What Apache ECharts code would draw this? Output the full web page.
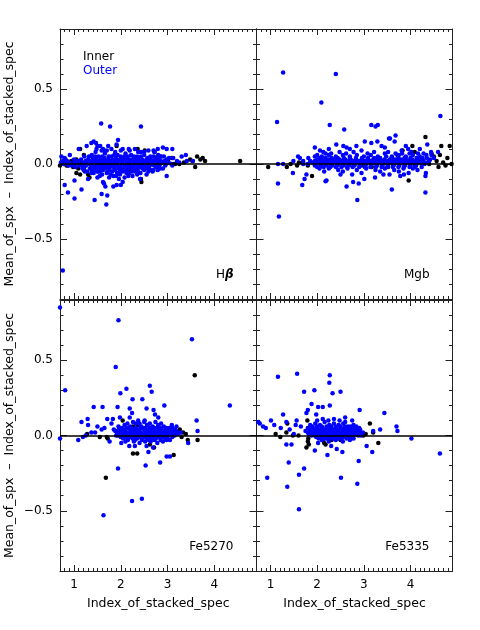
<!DOCTYPE html>
<html>
<head>
<meta charset="utf-8">
<script src="https://cdn.jsdelivr.net/npm/echarts@6/dist/echarts.min.js"></script>
<style>
  html, body { margin: 0; padding: 0; background: #fff; }
  #chart { width: 480px; height: 630px; }
</style>
</head>
<body>
<div id="chart"></div>
<script>
// Panel names (one per index)
const panelNames = ['Hβ', 'Mgb', 'Fe5270', 'Fe5335'];

// Hbeta panel: [index_of_stacked_spec, mean_of_spx - index]
const hbInner = [
    [1.13,0.10],[1.21,0.06],[1.91,0.12],[2.36,0.10],[2.51,0.09],[2.72,0.08],[2.78,0.05],[3.01,0.02],[3.09,0.04],[3.12,0.00],
    [3.16,0.00],[3.48,0.03],[3.59,-0.02],[3.75,0.04],[3.80,0.02],[4.55,0.02],[3.53,0.02],[3.63,0.05],[3.70,0.03],[0.94,0.02],
    [1.01,0.00],[1.05,0.03],[0.70,-0.01],[0.87,-0.01],[1.09,-0.03],[1.21,-0.04],[1.30,-0.07],[1.05,-0.06],[1.13,-0.07],[1.33,-0.09],
    [2.44,-0.12],[2.43,-0.10],[2.80,0.01],[2.69,0.02],[2.57,0.00],[0.84,-0.01],[0.80,0.02],[0.98,-0.02],[1.15,0.01],[2.95,0.01],
    [3.25,0.00],[3.35,0.01],[1.60,0.02],[2.20,-0.04],[1.40,-0.02]
];
const hbOuter = [
    [1.58,0.27],[1.77,0.25],[2.43,0.25],[0.76,-0.71],[1.94,0.16],[1.37,0.14],[1.42,0.15],[1.47,0.14],[1.59,0.09],[1.73,0.12],
    [1.62,0.10],[2.19,0.09],[2.37,0.08],[2.59,0.09],[2.79,0.10],[2.98,0.10],[3.10,0.10],[3.39,0.06],[2.80,0.06],[2.72,0.08],
    [0.91,0.06],[0.80,0.04],[0.76,0.02],[0.73,0.05],[3.41,0.02],[1.10,0.10],[1.27,0.12],[1.50,0.12],[1.91,0.13],[2.04,0.10],
    [2.17,0.10],[2.30,0.10],[2.43,0.08],[2.70,0.09],[2.90,0.11],[3.03,0.04],[2.86,0.05],[3.30,0.05],[3.54,0.02],
    [0.80,-0.14],[0.87,-0.19],[1.01,-0.11],[1.01,-0.23],[1.16,-0.17],[1.44,-0.24],[1.59,-0.20],[1.64,-0.13],[1.67,-0.15],[1.71,-0.21],
    [1.69,-0.27],[1.84,-0.15],[1.91,-0.14],[2.00,-0.14],[1.84,-0.08],[1.98,-0.07],[2.16,-0.08],[2.41,-0.10],[2.59,-0.05],[2.98,-0.08],
    [2.79,-0.04],[1.37,-0.06],[1.51,-0.05],[1.30,-0.10],[1.23,-0.05],[1.50,-0.09],[1.62,-0.12],[2.04,-0.12],
    [1.22,0.05],[1.38,0.06],[1.52,0.05],[1.66,0.07],[1.80,0.05],[1.93,0.06],[2.08,0.05],[2.22,0.06],[2.35,0.05],[2.50,0.06],
    [2.63,0.05],[2.78,0.04],[2.92,0.05],[3.12,0.04],
    [0.82,0.03],[1.00,0.03],[1.15,0.03],[1.30,0.03],[1.40,0.04],[1.48,0.03],[1.57,0.03],[1.65,0.04],[1.73,0.03],[1.82,0.03],
    [1.90,0.04],[1.98,0.03],[2.06,0.03],[2.14,0.04],[2.22,0.03],[2.30,0.03],[2.38,0.04],[2.46,0.03],[2.55,0.03],[2.64,0.03],
    [2.74,0.03],[2.85,0.02],[2.98,0.03],[3.20,0.02],
    [0.72,0.01],[0.90,0.01],[1.08,0.02],[1.20,0.01],[1.32,0.01],[1.41,0.02],[1.50,0.01],[1.59,0.01],[1.68,0.02],[1.77,0.01],
    [1.86,0.01],[1.95,0.02],[2.04,0.01],[2.13,0.01],[2.21,0.02],[2.30,0.01],[2.39,0.01],[2.48,0.02],[2.57,0.01],[2.66,0.01],
    [2.76,0.02],[2.88,0.01],[3.02,0.01],[3.25,0.01],
    [0.95,-0.01],[1.12,-0.01],[1.26,-0.01],[1.36,-0.01],[1.45,-0.02],[1.54,-0.01],[1.63,-0.01],[1.72,-0.02],[1.81,-0.01],[1.90,-0.01],
    [1.99,-0.02],[2.08,-0.01],[2.17,-0.01],[2.26,-0.02],[2.35,-0.01],[2.44,-0.01],[2.53,-0.02],[2.62,-0.01],[2.71,-0.01],[2.82,-0.02],
    [2.95,-0.01],[3.10,-0.01],
    [1.18,-0.03],[1.34,-0.03],[1.44,-0.04],[1.56,-0.03],[1.66,-0.03],[1.76,-0.04],[1.86,-0.03],[1.96,-0.03],[2.06,-0.04],[2.16,-0.03],
    [2.26,-0.03],[2.36,-0.04],[2.46,-0.03],[2.58,-0.03],[2.70,-0.04],[2.84,-0.03],
    [1.28,-0.05],[1.42,-0.06],[1.55,-0.05],[1.70,-0.06],[1.82,-0.05],[1.92,-0.06],[2.04,-0.05],[2.18,-0.06],[2.30,-0.05],[2.42,-0.06],
    [2.55,-0.07],[2.68,-0.05],[1.46,0.08],[1.70,0.09],[1.88,0.08],[2.10,0.07],[2.50,0.08],[1.55,-0.08],[1.75,-0.09],[2.25,-0.08],
    [2.08,-0.09],[1.96,-0.10],
    [0.78,0.00],[0.88,-0.01],[0.99,0.00],[1.10,0.00],[1.19,-0.01],[1.29,0.00],[1.39,0.00],[1.48,0.00],[1.57,-0.01],[1.66,0.00],
    [1.75,0.00],[1.84,-0.01],[1.93,0.00],[2.02,0.00],[2.11,-0.01],[2.20,0.00],[2.29,0.00],[2.38,-0.01],[2.47,0.00],[2.56,0.00],
    [2.65,0.00],[2.74,-0.01],[2.84,0.00],[2.96,0.00],[3.08,0.00],
    [0.85,0.02],[1.02,0.02],[1.25,0.02],[1.36,0.02],[1.45,0.02],[1.54,0.02],[1.63,0.03],[1.72,0.02],[1.81,0.02],[1.90,0.02],
    [2.00,0.02],[2.09,0.03],[2.18,0.02],[2.27,0.02],[2.36,0.02],[2.45,0.02],[2.54,0.02],[2.62,0.02],[2.71,0.02],[2.81,0.03],[2.93,0.02],
    [1.32,0.05],[1.45,0.05],[1.60,0.05],[1.74,0.05],[1.86,0.06],[2.00,0.05],[2.15,0.05],[2.28,0.05],[2.43,0.05],[2.57,0.04],
    [2.70,0.05],[2.85,0.05],
    [1.03,-0.02],[1.22,-0.02],[1.40,-0.02],[1.50,-0.03],[1.59,-0.02],[1.68,-0.02],[1.77,-0.02],[1.86,-0.02],[1.95,-0.02],[2.04,-0.03],
    [2.13,-0.02],[2.22,-0.02],[2.31,-0.03],[2.40,-0.02],[2.49,-0.02],[2.60,-0.02],[2.76,-0.02],[2.90,-0.03],
    [1.38,-0.04],[1.50,-0.05],[1.62,-0.04],[1.72,-0.05],[1.88,-0.04],[1.98,-0.05],[2.12,-0.04],[2.24,-0.05],[2.36,-0.05],[2.50,-0.04],
    [2.64,-0.04],[1.48,0.10],[1.56,0.12],[1.64,0.09],[1.80,0.10],[2.00,0.09],[1.60,-0.07],[1.78,-0.07],[1.90,-0.08],[2.12,-0.06],
    [2.35,-0.07]
];

// Mgb panel
const mgbInner = [
    [0.95,-0.02],[1.43,0.00],[1.57,-0.01],[1.61,0.01],[1.80,-0.01],[1.89,-0.08],[2.09,-0.01],[2.56,0.00],[2.95,-0.01],[3.17,-0.02],
    [3.52,-0.02],[3.96,-0.11],[4.04,0.12],[4.32,0.18],[4.45,0.07],[4.63,0.06],[4.66,0.12],[4.84,0.12],[4.79,0.04],[4.70,0.01],
    [4.88,0.00],[4.56,0.02],[4.20,0.04],[4.09,0.08],[3.72,0.06],[3.57,0.03],[3.83,0.09],[4.10,-0.01],[4.40,0.00],[4.60,-0.02],
    [4.75,-0.01],[4.50,0.05],[3.30,0.04],[3.10,0.02],[1.35,-0.02],[1.70,0.01],[2.30,0.02]
];
const mgbOuter = [
    [1.27,0.61],[2.40,0.60],[2.09,0.41],[1.14,0.28],[2.27,0.26],[2.58,0.23],[3.16,0.26],[3.25,0.25],[3.30,0.26],[4.64,0.32],
    [3.68,0.19],[3.56,0.17],[4.36,0.13],[1.16,-0.13],[1.18,-0.35],[1.48,-0.06],[1.68,-0.14],[1.73,-0.10],[1.77,-0.07],[2.18,-0.115],
    [2.63,-0.15],[2.77,-0.12],[2.86,-0.24],[3.01,-0.10],[3.60,-0.17],[4.32,-0.19],[4.32,-0.08],[4.33,-0.06],[3.78,-0.08],[3.86,-0.07],
    [3.96,-0.06],[2.20,-0.11],[2.89,-0.13],[2.50,-0.07],[2.75,-0.07],[3.24,-0.09],[3.42,-0.07],[3.55,-0.07],
    [1.95,0.11],[2.06,0.09],[2.13,0.08],[2.41,0.13],[2.56,0.12],[2.63,0.11],[2.84,0.12],[3.02,0.15],[3.16,0.14],[3.29,0.15],
    [3.38,0.12],[3.54,0.17],[3.66,0.15],[3.81,0.09],[3.95,0.10],[4.02,0.08],[4.16,0.07],[4.34,0.06],[4.45,0.06],[4.59,0.08],
    [1.59,0.05],[1.63,0.04],[1.81,0.04],[1.49,0.02],[1.16,0.00],[1.27,0.00],[1.70,0.02],[2.25,0.10],[2.70,0.10],[2.95,0.09],
    [3.45,0.11],[3.90,0.12],[4.20,0.10],[2.00,0.06],[2.30,0.07],
    [1.95,0.05],[2.10,0.05],[2.25,0.06],[2.40,0.05],[2.55,0.06],[2.70,0.05],[2.85,0.06],[3.00,0.05],[3.15,0.06],[3.30,0.05],
    [3.45,0.07],[3.60,0.05],[3.75,0.06],[3.90,0.05],[4.05,0.06],[4.20,0.05],[4.35,0.04],[4.50,0.04],
    [1.85,0.02],[2.00,0.03],[2.12,0.03],[2.24,0.03],[2.36,0.03],[2.48,0.03],[2.60,0.03],[2.72,0.03],[2.84,0.03],[2.96,0.03],
    [3.08,0.03],[3.20,0.03],[3.32,0.03],[3.44,0.03],[3.56,0.03],[3.68,0.03],[3.80,0.03],[3.92,0.03],[4.04,0.03],[4.16,0.03],[4.28,0.02],
    [1.70,0.00],[1.90,0.01],[2.02,0.01],[2.14,0.01],[2.26,0.01],[2.38,0.01],[2.50,0.01],[2.62,0.01],[2.74,0.01],[2.86,0.01],
    [2.98,0.01],[3.10,0.01],[3.22,0.01],[3.34,0.01],[3.46,0.01],[3.58,0.01],[3.70,0.01],[3.82,0.01],[3.94,0.01],[4.06,0.01],
    [4.18,0.01],[4.30,0.00],
    [1.95,-0.01],[2.08,-0.01],[2.20,-0.01],[2.32,-0.01],[2.44,-0.01],[2.56,-0.01],[2.68,-0.01],[2.80,-0.01],[2.92,-0.01],[3.04,-0.01],
    [3.16,-0.01],[3.28,-0.01],[3.40,-0.01],[3.52,-0.01],[3.64,-0.01],[3.76,-0.01],[3.88,-0.01],[4.00,-0.01],[4.12,-0.01],[4.24,-0.02],
    [2.05,-0.03],[2.25,-0.03],[2.45,-0.04],[2.65,-0.03],[2.85,-0.04],[3.05,-0.03],[3.25,-0.04],[3.45,-0.03],[3.65,-0.04],[3.85,-0.03],
    [4.05,-0.03],[2.15,-0.05],[2.55,-0.05],[2.95,-0.06],[3.35,-0.05],[3.75,-0.05],[4.15,-0.04],
    [1.80,0.00],[1.96,0.00],[2.08,0.00],[2.20,0.00],[2.32,0.00],[2.44,0.00],[2.56,0.00],[2.68,0.00],[2.80,0.00],[2.92,0.00],
    [3.04,0.00],[3.16,0.00],[3.28,0.00],[3.40,0.00],[3.52,0.00],[3.64,0.00],[3.76,0.00],[3.88,0.00],[4.00,0.00],[4.12,0.00],
    [4.24,0.00],[4.36,0.01],
    [1.95,0.02],[2.07,0.02],[2.19,0.02],[2.31,0.02],[2.43,0.02],[2.55,0.02],[2.67,0.02],[2.79,0.02],[2.91,0.02],[3.03,0.02],
    [3.15,0.02],[3.27,0.02],[3.39,0.02],[3.51,0.02],[3.63,0.02],[3.75,0.02],[3.87,0.02],[3.99,0.02],[4.11,0.02],[4.23,0.02],[4.40,0.02],
    [2.05,0.04],[2.18,0.04],[2.31,0.04],[2.44,0.04],[2.57,0.04],[2.70,0.04],[2.83,0.04],[2.96,0.04],[3.09,0.04],[3.22,0.04],
    [3.35,0.04],[3.48,0.05],[3.61,0.04],[3.74,0.04],[3.87,0.04],[4.00,0.04],[4.13,0.04],[4.26,0.04],[4.42,0.03],
    [2.00,-0.02],[2.14,-0.02],[2.28,-0.02],[2.40,-0.02],[2.52,-0.02],[2.64,-0.02],[2.76,-0.02],[2.90,-0.02],[3.02,-0.02],[3.14,-0.02],
    [3.26,-0.02],[3.38,-0.02],[3.50,-0.02],[3.62,-0.02],[3.74,-0.02],[3.86,-0.02],[3.98,-0.02],[4.10,-0.02],
    [2.18,0.07],[2.48,0.08],[2.62,0.07],[2.78,0.08],[3.08,0.07],[3.22,0.08],[3.52,0.08],[3.68,0.07],[3.82,0.07],[3.98,0.07],
    [4.28,0.07],[4.44,0.08]
];

// Fe5270 panel
const fe5270Inner = [
    [3.58,0.40],[1.68,-0.28],[2.26,-0.12],[2.35,-0.12],[3.13,-0.13],[2.71,-0.08],[2.62,-0.06],[2.04,0.10],[2.26,0.06],[2.36,0.07],
    [2.57,0.07],[2.80,0.06],[3.26,0.04],[3.33,0.02],[3.39,0.01],[3.30,-0.01],[3.43,-0.03],[3.64,-0.03],[1.28,0.01],[1.55,-0.01],
    [1.70,-0.01],[1.72,-0.02],[1.94,0.00],[2.57,-0.02],[3.20,0.02]
];
const fe5270Outer = [
    [0.70,0.85],[1.95,0.765],[3.52,0.64],[1.89,0.455],[0.81,0.30],[2.12,0.31],[1.99,0.28],[2.62,0.33],[2.66,0.29],[2.46,0.24],
    [2.25,0.24],[4.33,0.20],[2.93,0.20],[1.42,0.19],[1.61,0.19],[1.93,0.19],[2.19,0.18],[2.55,0.18],[2.70,0.17],[2.73,0.14],
    [2.80,0.12],[2.24,0.15],[1.63,-0.53],[2.24,-0.435],[2.45,-0.42],[1.94,-0.22],[2.53,-0.20],[2.84,-0.18],[2.98,-0.14],[3.05,-0.14],
    [0.70,-0.02],[1.09,-0.03],[1.19,-0.01],[1.16,0.09],[1.29,0.11],[1.30,0.07],[1.50,0.06],[1.59,0.04],[1.37,0.02],[1.71,0.11],
    [1.83,0.11],[1.98,0.12],[2.19,0.12],[2.37,0.10],[2.51,0.10],[2.80,0.07],[3.09,0.07],[3.19,0.06],[3.62,0.10],[3.64,0.03],
    [3.44,-0.05],[1.76,-0.04],[2.01,-0.05],[2.18,-0.07],[2.30,-0.07],[2.55,-0.07],[2.59,-0.11],[2.69,-0.08],[1.25,0.00],[1.45,0.02],
    [1.65,0.05],[1.80,0.08],[1.88,0.03],
    [1.95,0.06],[2.08,0.07],[2.20,0.06],[2.32,0.08],[2.44,0.06],[2.56,0.07],[2.68,0.06],[2.80,0.05],[2.92,0.06],[3.04,0.05],[3.16,0.04],
    [1.85,0.04],[1.96,0.04],[2.06,0.04],[2.16,0.05],[2.26,0.04],[2.36,0.04],[2.46,0.05],[2.56,0.04],[2.66,0.04],[2.76,0.04],
    [2.86,0.04],[2.96,0.04],[3.06,0.03],[3.18,0.03],[3.28,0.02],
    [1.92,0.02],[2.02,0.02],[2.12,0.02],[2.22,0.02],[2.32,0.02],[2.42,0.02],[2.52,0.02],[2.62,0.02],[2.72,0.02],[2.82,0.02],
    [2.92,0.02],[3.02,0.02],[3.12,0.01],[3.22,0.01],
    [1.90,0.00],[2.00,0.00],[2.10,0.00],[2.20,0.00],[2.30,0.00],[2.40,0.00],[2.50,0.00],[2.60,0.00],[2.70,0.00],[2.80,0.00],
    [2.90,0.00],[3.00,0.00],[3.10,-0.01],
    [2.05,-0.02],[2.15,-0.02],[2.25,-0.02],[2.35,-0.02],[2.45,-0.02],[2.55,-0.02],[2.65,-0.02],[2.75,-0.02],[2.85,-0.02],[2.95,-0.02],
    [3.05,-0.03],[2.10,-0.04],[2.28,-0.04],[2.40,-0.05],[2.52,-0.04],[2.64,-0.04],[2.78,-0.05],[2.90,-0.04],
    [1.95,0.01],[2.05,0.01],[2.15,0.01],[2.25,0.01],[2.35,0.01],[2.45,0.01],[2.55,0.01],[2.65,0.01],[2.75,0.01],[2.85,0.01],
    [2.95,0.01],[3.05,0.01],[3.15,0.00],
    [1.90,0.03],[2.00,0.03],[2.10,0.03],[2.20,0.03],[2.30,0.03],[2.40,0.03],[2.50,0.03],[2.60,0.03],[2.70,0.03],[2.80,0.03],
    [2.90,0.03],[3.00,0.03],[3.10,0.03],[3.22,0.02],
    [2.02,0.05],[2.12,0.05],[2.22,0.05],[2.32,0.05],[2.42,0.05],[2.52,0.05],[2.62,0.05],[2.72,0.05],[2.84,0.05],[2.98,0.05],[3.10,0.05],
    [2.00,-0.01],[2.10,-0.01],[2.20,-0.01],[2.30,-0.01],[2.40,-0.01],[2.50,-0.01],[2.60,-0.01],[2.70,-0.01],[2.80,-0.01],[2.90,-0.01],
    [3.00,-0.01],[2.15,-0.03],[2.30,-0.03],[2.45,-0.03],[2.60,-0.03],[2.72,-0.03],[2.85,-0.03],[2.98,-0.03],
    [2.14,0.08],[2.26,0.09],[2.40,0.08],[2.50,0.09],[2.62,0.08],[2.74,0.09],[2.86,0.08]
];

// Fe5335 panel
const fe5335Inner = [
    [1.11,0.01],[1.21,-0.01],[1.34,0.02],[1.36,0.08],[1.48,0.00],[1.79,0.10],[1.81,-0.02],[1.80,-0.04],[1.82,-0.06],[1.77,-0.08],
    [2.02,-0.01],[2.12,-0.03],[2.15,-0.05],[2.18,-0.06],[2.25,-0.03],[2.31,-0.03],[2.50,-0.03],[2.99,0.00],[3.13,0.08],[3.04,0.01],
    [3.20,0.02],[3.31,-0.05],[2.92,0.01],[1.60,0.00],[1.95,0.00]
];
const fe5335Outer = [
    [1.16,0.39],[1.57,0.41],[2.27,0.40],[2.26,0.35],[1.72,0.29],[1.94,0.30],[2.50,0.29],[2.33,0.28],[1.88,0.21],[2.02,0.19],
    [2.12,0.19],[2.27,0.20],[1.77,0.15],[1.80,0.17],[1.98,0.14],[2.91,0.17],[3.44,0.15],[3.70,0.06],[3.72,0.03],[4.02,-0.02],
    [4.63,-0.12],[0.93,-0.28],[1.36,-0.34],[1.61,-0.49],[1.39,-0.18],[1.61,-0.26],[1.72,-0.22],[2.51,-0.28],[2.86,-0.32],[2.89,-0.17],
    [2.22,-0.13],[2.42,-0.09],[2.54,-0.11],[3.06,-0.07],[3.18,-0.11],[1.34,-0.06],[1.45,-0.06],[1.95,-0.10],[0.74,0.09],[0.77,0.08],
    [0.84,0.06],[0.90,0.05],[1.01,0.10],[1.08,0.07],[1.22,0.05],[1.27,0.14],[1.34,0.09],[1.56,0.10],[1.41,0.04],[1.54,0.07],
    [1.65,0.06],[2.60,0.12],[2.75,0.10],[3.20,0.03],[3.35,0.04],[2.02,-0.05],[2.30,-0.07],[1.50,0.01],
    [1.85,0.07],[1.96,0.08],[2.06,0.07],[2.16,0.09],[2.26,0.07],[2.36,0.08],[2.46,0.07],[2.56,0.08],[2.66,0.06],[2.78,0.07],[2.90,0.05],
    [1.80,0.05],[1.90,0.05],[2.00,0.05],[2.10,0.05],[2.20,0.05],[2.30,0.05],[2.40,0.05],[2.50,0.05],[2.60,0.05],[2.70,0.05],
    [2.80,0.05],[2.92,0.04],
    [1.75,0.03],[1.86,0.03],[1.96,0.03],[2.06,0.03],[2.16,0.03],[2.26,0.03],[2.36,0.03],[2.46,0.03],[2.56,0.03],[2.66,0.03],
    [2.76,0.03],[2.86,0.03],[2.98,0.02],
    [1.82,0.01],[1.92,0.01],[2.02,0.01],[2.12,0.01],[2.22,0.01],[2.32,0.01],[2.42,0.01],[2.52,0.01],[2.62,0.01],[2.72,0.01],
    [2.82,0.01],[2.94,0.00],
    [1.98,-0.01],[2.08,-0.01],[2.18,-0.02],[2.28,-0.01],[2.38,-0.01],[2.48,-0.02],[2.58,-0.01],[2.68,-0.01],[2.78,-0.02],
    [2.10,-0.03],[2.25,-0.04],[2.40,-0.03],[2.55,-0.04],[2.70,-0.03],
    [1.88,0.00],[1.98,0.00],[2.08,0.00],[2.18,0.00],[2.28,0.00],[2.38,0.00],[2.48,0.00],[2.58,0.00],[2.68,0.00],[2.78,0.00],[2.88,0.00],
    [1.80,0.02],[1.90,0.02],[2.00,0.02],[2.10,0.02],[2.20,0.02],[2.30,0.02],[2.40,0.02],[2.50,0.02],[2.60,0.02],[2.70,0.02],
    [2.80,0.02],[2.90,0.02],
    [1.84,0.04],[1.94,0.04],[2.04,0.04],[2.14,0.04],[2.24,0.04],[2.34,0.04],[2.44,0.04],[2.54,0.04],[2.64,0.04],[2.74,0.04],[2.84,0.04],
    [1.90,0.06],[2.00,0.06],[2.10,0.06],[2.20,0.06],[2.30,0.06],[2.40,0.06],[2.50,0.06],[2.60,0.06],[2.72,0.06],[2.84,0.06],
    [2.00,0.10],[2.12,0.11],[2.24,0.10],[2.36,0.11],[2.48,0.10],[2.60,0.09],
    [2.03,-0.02],[2.13,-0.02],[2.23,-0.02],[2.33,-0.02],[2.43,-0.02],[2.53,-0.02],[2.63,-0.02],[2.73,-0.02]
];

const innerSets = [hbInner, mgbInner, fe5270Inner, fe5335Inner];
const outerSets = [hbOuter, mgbOuter, fe5270Outer, fe5335Outer];

const X_MIN = 0.7, X_MAX = 4.9;
const Y_MIN = -0.9, Y_MAX = 0.9;
const FONT = 'DejaVu Sans';
const FRAME = '#222';

// Panel boxes in pixels: left, top, width, height
const panelBoxes = [
    { left: 60, top: 29, width: 196.5, height: 270 },
    { left: 256.5, top: 29, width: 196, height: 270 },
    { left: 60, top: 300, width: 196.5, height: 271 },
    { left: 256.5, top: 300, width: 196, height: 271 }
];

function xAxisFor(gridIndex, position, showLabel) {
    return {
        type: 'value', gridIndex, position, min: X_MIN, max: X_MAX, splitNumber: 5,
        axisLine: { show: true, onZero: false, lineStyle: { color: FRAME, width: 1 } },
        axisTick: { show: true, inside: true, length: 6, lineStyle: { color: FRAME, width: 1 } },
        minorTick: { show: true, splitNumber: 10, length: 3, lineStyle: { color: FRAME, width: 1 } },
        splitLine: { show: false },
        axisLabel: {
            show: showLabel, showMinLabel: false, showMaxLabel: false, margin: 8,
            color: '#000', fontSize: 12, fontFamily: FONT,
            formatter: v => String(Math.round(v))
        },
        name: showLabel ? 'Index_of_stacked_spec' : '',
        nameLocation: 'middle', nameGap: 26,
        nameTextStyle: { color: '#000', fontSize: 12.5, fontFamily: FONT }
    };
}

function yAxisFor(gridIndex, position, showLabel) {
    return {
        type: 'value', gridIndex, position, min: Y_MIN, max: Y_MAX, splitNumber: 4,
        axisLine: { show: true, onZero: false, lineStyle: { color: FRAME, width: 1 } },
        axisTick: { show: true, inside: true, length: 7, lineStyle: { color: FRAME, width: 1 } },
        minorTick: { show: true, splitNumber: 5, length: 3.5, lineStyle: { color: FRAME, width: 1 } },
        splitLine: { show: false },
        axisLabel: {
            show: showLabel, showMinLabel: false, showMaxLabel: false, margin: 7,
            color: '#000', fontSize: 12, fontFamily: FONT,
            formatter: v => v.toFixed(1).replace('-', '\u2212')
        },
        name: showLabel ? 'Mean_of_spx  \u2013  Index_of_stacked_spec' : '',
        nameLocation: 'middle', nameGap: 44, nameRotate: 90,
        nameTextStyle: { color: '#000', fontSize: 12.5, fontFamily: FONT }
    };
}

function buildOption() {
    const grids = [], xAxes = [], yAxes = [], series = [];
    panelBoxes.forEach((box, i) => {
        grids.push(Object.assign({ outerBoundsMode: 'none', containLabel: false }, box));
        const isBottom = i >= 2;
        const isLeft = i % 2 === 0;
        xAxes.push(xAxisFor(i, 'bottom', isBottom));
        xAxes.push(xAxisFor(i, 'top', false));
        yAxes.push(yAxisFor(i, 'left', isLeft));
        yAxes.push(yAxisFor(i, 'right', false));

        // Inner first, outer drawn on top of it
        series.push({
            type: 'scatter', name: 'Inner', data: innerSets[i],
            xAxisIndex: i * 2, yAxisIndex: i * 2,
            symbolSize: 4.5, itemStyle: { color: '#000000', opacity: 1 }
        });
        series.push({
            type: 'scatter', name: 'Outer', data: outerSets[i],
            xAxisIndex: i * 2, yAxisIndex: i * 2,
            symbolSize: 4.5, itemStyle: { color: '#0000ff', opacity: 1 },
            markLine: {
                silent: true, symbol: 'none', label: { show: false },
                lineStyle: { color: '#000', width: 1.5, type: 'solid', opacity: 1 },
                data: [{ yAxis: 0 }]
            }
        });
    });

    // Panel labels, right aligned near lower right corner
    const labelGraphics = panelNames.map((name, i) => {
        const box = panelBoxes[i];
        return {
            type: 'text',
            x: box.left + box.width - 23,
            y: box.top + box.height - 24,
            silent: true,
            style: {
                text: name === 'Hβ' ? 'H{b|β}' : name,
                align: 'right', verticalAlign: 'middle',
                fill: '#000', font: '12px "DejaVu Sans"',
                rich: { b: { fontStyle: 'italic', fontWeight: 'bold', fontSize: 12, fontFamily: FONT } }
            }
        };
    });

    return {
        animation: false,
        backgroundColor: '#fff',
        legend: {
            data: [
                { name: 'Inner', textStyle: { color: '#000' } },
                { name: 'Outer', textStyle: { color: '#0000ff' } }
            ],
            orient: 'vertical', left: 73, top: 45,
            icon: 'none', itemWidth: 0, itemHeight: 14, itemGap: 1,
            selectedMode: false,
            textStyle: { fontSize: 12, fontFamily: FONT }
        },
        grid: grids,
        xAxis: xAxes,
        yAxis: yAxes,
        series: series,
        graphic: labelGraphics
    };
}

const chart = echarts.init(document.getElementById('chart'), null, { renderer: 'canvas' });
chart.setOption(buildOption());
</script>
</body>
</html>
